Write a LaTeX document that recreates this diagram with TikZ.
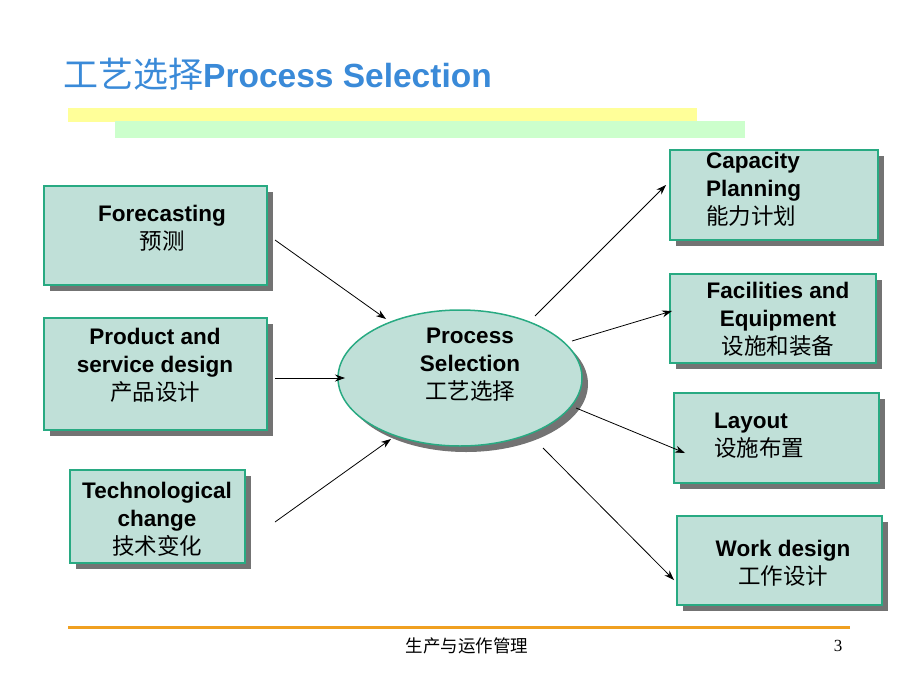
\documentclass[tikz,border=0pt]{standalone}
\usepackage{fontspec}
\setmainfont{Liberation Sans}
\newfontfamily\cjk{Noto Sans CJK SC}
\newfontfamily\serifnum{Liberation Serif}
\usetikzlibrary{shadows,arrows.meta,shapes.geometric}
\definecolor{boxfill}{RGB}{192,224,216}
\definecolor{boxline}{RGB}{40,170,130}
\definecolor{titleblue}{RGB}{58,138,216}
\definecolor{baryellow}{RGB}{255,255,153}
\definecolor{bargreen}{RGB}{204,255,204}
\definecolor{footorange}{RGB}{240,160,32}
\tikzset{
  boxshape/.style={draw=boxline, line width=1.5pt, fill=boxfill, inner sep=0pt,
    drop shadow={shadow xshift=6pt, shadow yshift=-6pt, fill=black!55, opacity=1}},
  boxtext/.style={font=\fontsize{22.5}{28}\selectfont\bfseries, align=center, inner sep=0pt},
  arr/.style={-{Stealth[length=10pt,width=7pt]}, line width=0.8pt, black},
}
\begin{document}
\begin{tikzpicture}[x=1pt,y=-1pt]
\useasboundingbox (0,0) rectangle (920,690);
% title
\node[anchor=base west, inner sep=0pt, text=titleblue] (title) at (63,88) {\fontsize{35}{38}\selectfont\cjk 工艺选择\fontsize{33.5}{38}\selectfont\rmfamily\bfseries Process Selection};
\fill[baryellow] (68,108) rectangle (697,122);
\fill[bargreen] (115,121) rectangle (745,138);
% boxes
\node[boxshape, minimum width=223pt, minimum height=99pt] (fb) at (155.5,235.5) {};
\node[boxshape, minimum width=223pt, minimum height=112pt] (pb) at (155.5,374) {};
\node[boxshape, minimum width=175pt, minimum height=93pt] (tb) at (157.5,516.5) {};
\node[boxshape, minimum width=208pt, minimum height=90pt] (cb) at (774,195) {};
\node[boxshape, minimum width=206pt, minimum height=89pt] (eb) at (773,318.5) {};
\node[boxshape, minimum width=205pt, minimum height=90pt] (lb) at (776.5,438) {};
\node[boxshape, minimum width=205pt, minimum height=89pt] (wb) at (779.5,560.5) {};
\node[boxshape, ellipse, minimum width=244pt, minimum height=136pt] (ps) at (460,378) {};
% texts
\node[boxtext] (ft) at (162,228) {Forecasting\\{\cjk\mdseries 预测}};
\node[boxtext] (pt) at (155,365) {Product and\\service design\\{\cjk\mdseries 产品设计}};
\node[boxtext] (tt) at (157,519) {Technological\\change\\{\cjk\mdseries 技术变化}};
\node[boxtext, align=left, anchor=west] (ct) at (706,189) {Capacity\\Planning\\{\cjk\mdseries 能力计划}};
\node[boxtext] (et) at (778,319) {Facilities and\\Equipment\\{\cjk\mdseries 设施和装备}};
\node[boxtext, align=left, anchor=west] (lt) at (714,436) {Layout\\{\cjk\mdseries 设施布置}};
\node[boxtext] (wt) at (783,563) {Work design\\{\cjk\mdseries 工作设计}};
\node[boxtext] (pst) at (470,365) {Process\\Selection\\{\cjk\mdseries 工艺选择}};
% arrow endpoints
\coordinate (a1) at (275,240); \coordinate (b1) at (386,319);
\coordinate (a2) at (275,378); \coordinate (b2) at (345,378);
\coordinate (a3) at (275,522); \coordinate (b3) at (391,439);
\coordinate (a4) at (535,316); \coordinate (b4) at (666,185);
\coordinate (a5) at (572,341); \coordinate (b5) at (672,311);
\coordinate (a6) at (576,408); \coordinate (b6) at (685,453);
\coordinate (a7) at (543,448); \coordinate (b7) at (674,580);
\draw[arr] (a1) -- (b1);
\draw[arr] (a2) -- (b2);
\draw[arr] (a3) -- (b3);
\draw[arr] (a4) -- (b4);
\draw[arr] (a5) -- (b5);
\draw[arr] (a6) -- (b6);
\draw[arr] (a7) -- (b7);
% footer
\draw[footorange, line width=3pt] (68,627) -- (850,627);
\node[font=\fontsize{17.5}{20}\selectfont, inner sep=0pt] (foot) at (467,646) {\cjk 生产与运作管理};
\node[font=\fontsize{17}{20}\selectfont, inner sep=0pt] (pg) at (838,646) {\serifnum 3};
\end{tikzpicture}
\end{document}
